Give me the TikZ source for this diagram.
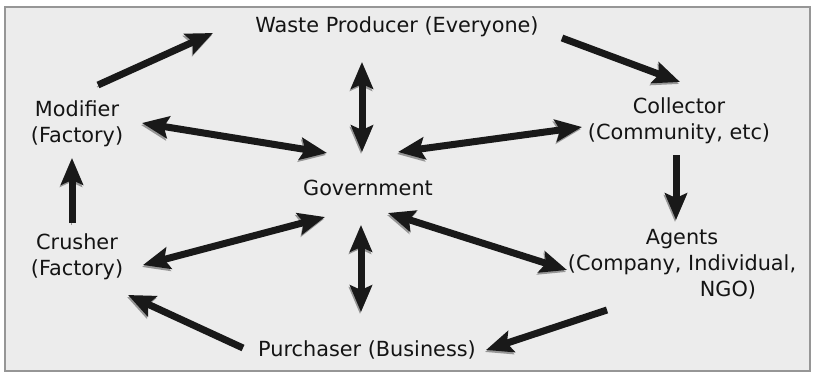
\documentclass[tikz,border=0pt]{standalone}
\usepackage{fontspec}
\setmainfont{DejaVu Sans}
\usetikzlibrary{arrows.meta,calc}

\tikzset{every picture/.style={line width=0.75pt}}
\tikzset{
  lbl/.style={align=center, text={rgb,255:red,20;green,20;blue,20}, font=\fontsize{15.6}{19.5}\selectfont, inner sep=0pt},
  flow/.style={line width=5.25pt, draw={rgb,255:red,25;green,25;blue,25},
    -{Stealth[length=20pt,width=16.5pt,inset=3.5pt]},
    preaction={draw={rgb,255:red,150;green,150;blue,150}, transform canvas={shift={(-0.75pt,-1.5pt)}}}},
  both/.style={flow, {Stealth[length=20pt,width=16.5pt,inset=3.5pt]}-{Stealth[length=20pt,width=16.5pt,inset=3.5pt]}}
}

\begin{document}
\begin{tikzpicture}[x=0.75pt,y=0.75pt,yscale=-1,xscale=1]
\useasboundingbox (0,0) rectangle (814,375);

%Frame
\draw  [draw={rgb, 255:red, 150; green, 150; blue, 150 }, line width=1.5pt, fill={rgb, 255:red, 236; green, 236; blue, 236 }  ,fill opacity=1 ] (5,7) rectangle (810,371) ;

% Text Node
\draw (397,27) node (waste) [lbl] {Waste Producer (Everyone)};
% Text Node
\draw (77,124) node (mod) [lbl] {Modifier\\(Factory)};
% Text Node
\draw (679,121) node (coll) [lbl] {Collector\\(Community, etc)};
% Text Node
\draw (368,188) node (gov) [lbl] {Government};
% Text Node
\draw (77,257) node (crush) [lbl] {Crusher\\(Factory)};
% Text Node
\draw (682,264) node (agents) [lbl] {Agents\\(Company, Individual,\\\hspace*{69pt}NGO)};
% Text Node
\draw (367,350) node (purch) [lbl] {Purchaser (Business)};

%Cycle arrows
\draw [flow] ($(mod)+(21,-39)$) -- ($(waste)+(-184,6)$) ;
\draw [flow] ($(waste)+(165,11)$) -- ($(coll)+(1,-39)$) ;
\draw [flow] ($(coll)+(-3,34)$) -- ($(agents)+(-6,-44)$) ;
\draw [flow] ($(agents)+(-75,46)$) -- ($(purch)+(119,0)$) ;
\draw [flow] ($(purch)+(-124,-2)$) -- ($(crush)+(51,38)$) ;
\draw [flow] ($(crush)+(-5,-34)$) -- ($(mod)+(-5,34)$) ;

%Government arrows
\draw [both] ($(mod)+(65,-1)$) -- ($(gov)+(-41,-35)$) ;
\draw [both] ($(waste)+(-35,35)$) -- ($(gov)+(-6,-36)$) ;
\draw [both] ($(gov)+(30,-36)$) -- ($(coll)+(-97,6)$) ;
\draw [both] ($(crush)+(66,8)$) -- ($(gov)+(-43,29)$) ;
\draw [both] ($(gov)+(-7,37)$) -- ($(purch)+(-6,-38)$) ;
\draw [both] ($(gov)+(20,25)$) -- ($(agents)+(-115,6)$) ;

\end{tikzpicture}
\end{document}
